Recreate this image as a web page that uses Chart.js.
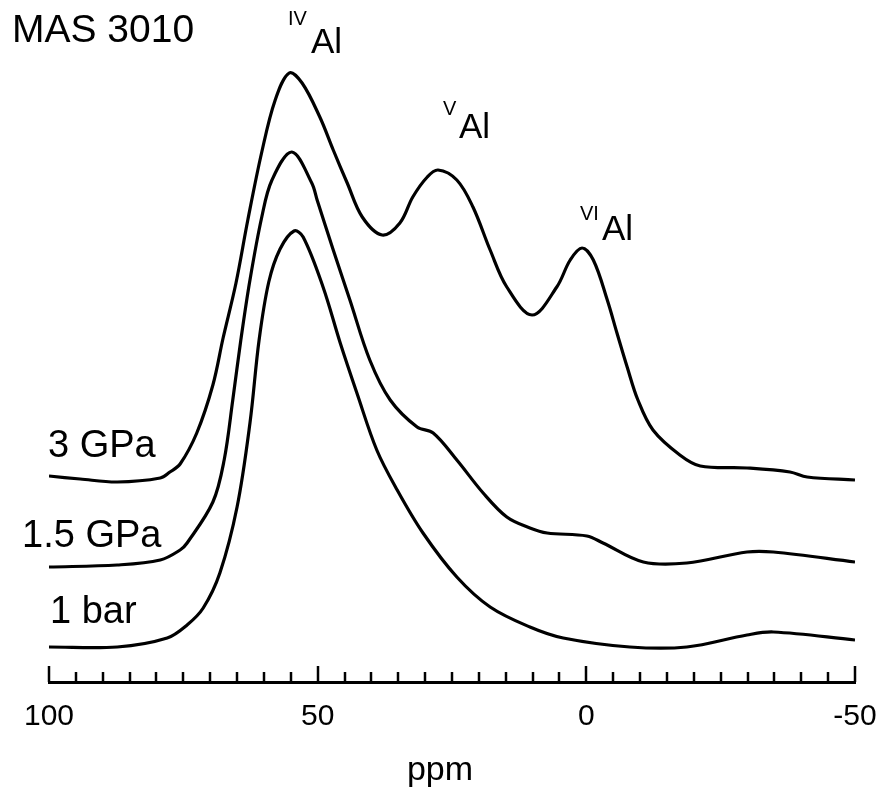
<!DOCTYPE html>
<html>
<head>
<meta charset="utf-8">
<script src="https://cdn.jsdelivr.net/npm/chart.js@4.4.1/dist/chart.umd.min.js"></script>
<style>
  body { margin: 0; background: #fff; }
  #grafico { display: block; }
</style>
</head>
<body>
<canvas id="grafico" width="882" height="789"></canvas>
<script>
// spectra (ppm, stacked intensity)
const ppm3GPa = [100, 94.2, 87.3, 79.3, 77.5, 75.6, 72.5, 69.5, 67.6, 65.2, 63.0, 60.4, 57.9, 55.3, 52.9, 49.6, 47.1, 44.5, 41.7, 38.0, 34.7, 32.3, 29.6, 27.6, 24.1, 21.1, 17.9, 14.8, 10.1, 5.5, 3.0, 0.8, -1.3, -3.9, -5.7, -7.6, -9.6, -12.4, -17.4, -21.2, -29.9, -37.9, -41.1, -50];
const int3GPa = [206, 203, 200, 204, 210, 218, 249, 297, 344, 399, 462, 530, 582, 609, 599, 565, 532, 499, 465, 447, 459, 485, 505, 512, 502, 475, 432, 395, 367, 395, 422, 434, 422, 382, 349, 315, 282, 252, 227, 216, 214, 210, 205, 202];

const ppm15GPa = [100, 87.3, 79.3, 75.6, 74.3, 69.5, 67.4, 65.8, 64.3, 62.6, 60.4, 58.5, 54.8, 51.1, 50.1, 47.1, 44.0, 40.3, 36.5, 31.5, 28.5, 24.1, 19.2, 14.8, 10.5, 7.3, -0.1, -3.1, -10.6, -18.7, -29.9, -34.8, -50];
const int15GPa = [115, 117, 122, 132, 139, 180, 222, 282, 342, 402, 465, 502, 530, 499, 482, 432, 382, 322, 282, 255, 249, 222, 189, 165, 154, 149, 146, 139, 120, 119, 130, 130, 120];

const ppm1bar = [100, 87.3, 78.0, 74.3, 71.3, 68.2, 65.0, 62.6, 60.9, 59.1, 57.0, 54.4, 52.7, 49.0, 45.8, 42.7, 39.0, 35.2, 30.4, 24.1, 17.9, 10.5, 4.3, -8.1, -18.7, -29.9, -34.8, -50];
const int1bar = [35, 35, 44, 57, 74, 109, 175, 259, 342, 400, 433, 451, 445, 395, 339, 289, 232, 192, 149, 105, 75, 55, 44, 35, 35, 47, 50, 42];

const seriesNames = ['3 GPa', '1.5 GPa', '1 bar'];
const tickLabels = [100, 50, 0, -50];
const minorStep = 5;

const fonte = 'Liberation Sans, Arial, sans-serif';

function pontos(xs, ys) {
  return xs.map((x, i) => ({ x: x, y: ys[i] }));
}

// ticks pointing up into the plot, every 5 ppm
const ticksInternos = {
  id: 'ticksInternos',
  afterDraw(chart) {
    const ctx = chart.ctx;
    const sx = chart.scales.x;
    const y0 = chart.chartArea.bottom;
    ctx.save();
    ctx.strokeStyle = '#000';
    ctx.lineWidth = 2.5;
    for (let v = sx.min; v <= sx.max; v += minorStep) {
      const px = Math.round(sx.getPixelForValue(v));
      const len = tickLabels.includes(v) ? 16 : 10;
      ctx.beginPath();
      ctx.moveTo(px, y0);
      ctx.lineTo(px, y0 - len);
      ctx.stroke();
    }
    ctx.restore();
  }
};

// texts: title, series names, peak labels, axis name
const textos = {
  id: 'textos',
  afterDraw(chart) {
    const ctx = chart.ctx;
    ctx.save();
    ctx.fillStyle = '#000';
    ctx.textBaseline = 'alphabetic';
    ctx.textAlign = 'left';

    ctx.font = '39px ' + fonte;
    ctx.fillText('MAS 3010', 12, 42);

    ctx.font = '38px ' + fonte;
    ctx.fillText(seriesNames[0], 48, 457);
    ctx.fillText(seriesNames[1], 22, 547);
    ctx.fillText(seriesNames[2], 50, 623);

    const picos = [
      { sup: 'IV', xs: 288, ys: 25, xa: 311, ya: 53 },
      { sup: 'V', xs: 443, ys: 115, xa: 459, ya: 138 },
      { sup: 'VI', xs: 580, ys: 220, xa: 602, ya: 240 }
    ];
    picos.forEach(p => {
      ctx.font = '20px ' + fonte;
      ctx.fillText(p.sup, p.xs, p.ys);
      ctx.font = '35px ' + fonte;
      ctx.fillText('Al', p.xa, p.ya);
    });

    ctx.textAlign = 'center';
    ctx.font = '34px ' + fonte;
    ctx.fillText('ppm', 440, 780);
    ctx.restore();
  }
};

const ctx = document.getElementById('grafico').getContext('2d');
const grafico = new Chart(ctx, {
  type: 'line',
  data: {
    datasets: [
      { label: seriesNames[0], data: pontos(ppm3GPa, int3GPa) },
      { label: seriesNames[1], data: pontos(ppm15GPa, int15GPa) },
      { label: seriesNames[2], data: pontos(ppm1bar, int1bar) }
    ]
  },
  options: {
    responsive: false,
    animation: false,
    layout: { padding: { left: 49, right: 27, top: 32, bottom: 0 } },
    plugins: { legend: { display: false }, tooltip: { enabled: false } },
    elements: {
      point: { radius: 0 },
      line: { borderWidth: 3.2, borderColor: '#000', tension: 0.35, fill: false }
    },
    scales: {
      x: {
        type: 'linear',
        reverse: true,
        min: -50,
        max: 100,
        afterFit(s) {
          s.height = 107;
          s.paddingLeft = 0;
          s.paddingRight = 0;
        },
        grid: { display: false, drawTicks: false },
        border: { display: true, width: 3, color: '#000' },
        ticks: {
          stepSize: 50,
          autoSkip: false,
          maxRotation: 0,
          padding: 17,
          color: '#000',
          font: { size: 30, family: fonte },
          callback: v => tickLabels.includes(v) ? String(v) : ''
        }
      },
      y: { display: false, min: 0, max: 650 }
    }
  },
  plugins: [ticksInternos, textos]
});
</script>
</body>
</html>
